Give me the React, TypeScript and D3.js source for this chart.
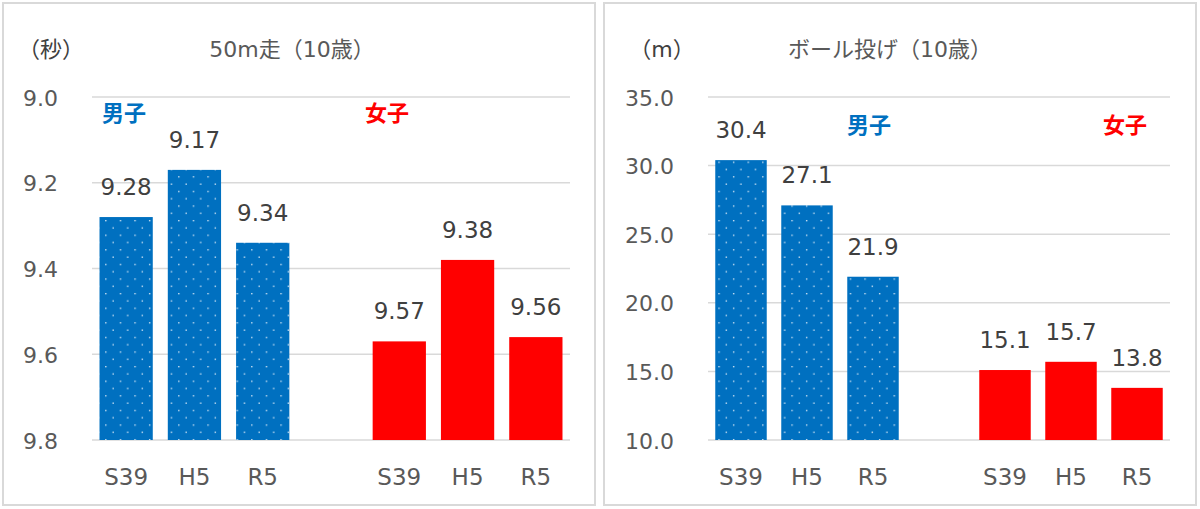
import React from "react";
import * as d3 from "d3";

const categories = ["S39", "H5", "R5"];
const runBoys = [9.28, 9.17, 9.34];
const runGirls = [9.57, 9.38, 9.56];
const runTicks = [9.0, 9.2, 9.4, 9.6, 9.8];
const throwBoys = [30.4, 27.1, 21.9];
const throwGirls = [15.1, 15.7, 13.8];
const throwTicks = [35.0, 30.0, 25.0, 20.0, 15.0, 10.0];

const BLUE = "#0070C0";
const RED = "#FF0000";
const TEXT = "#595959";
const LABEL = "#404040";
const GRID = "#D9D9D9";
const NUM_FONT = "'DejaVu Sans', 'Noto Sans CJK JP', sans-serif";
const JP_FONT = "'Noto Sans CJK JP', 'Noto Sans', sans-serif";
const TITLE_FONT = "'DejaVu Sans', 'Noto Sans CJK JP', sans-serif";

type PanelProps = {
  x0: number;
  x1: number;
  plotL: number;
  plotR: number;
  title: string;
  titleX: number;
  unit: string;
  unitX: number;
  tickX: number;
  boys: number[];
  girls: number[];
  ticks: number[];
  domain: [number, number];
  tickDigits: number;
  valueDigits: number;
  boysLabel: [number, number];
  girlsLabel: [number, number];
  patternId: string;
};

function Panel(p: PanelProps) {
  const top = 97;
  const bottom = 440;
  const slots = ["b0", "b1", "b2", "gap", "g0", "g1", "g2"];
  const x = d3
    .scaleBand<string>()
    .domain(slots)
    .range([p.plotL, p.plotR])
    .paddingInner(0.22)
    .paddingOuter(0.11);
  const y = d3.scaleLinear().domain(p.domain).range([bottom, top]);
  const bars = [
    ...p.boys.map((v, i) => ({ key: "b" + i, v, cat: categories[i], fill: `url(#${p.patternId})` })),
    ...p.girls.map((v, i) => ({ key: "g" + i, v, cat: categories[i], fill: RED })),
  ];
  return (
    <g>
      <rect x={p.x0} y={3} width={p.x1 - p.x0} height={502} fill="#fff" stroke={GRID} strokeWidth={2} />
      <text x={p.titleX} y={57} textAnchor="middle" fontSize={22} fill={TEXT} fontFamily={TITLE_FONT}>
        {p.title}
      </text>
      <text x={p.unitX} y={57} textAnchor="middle" fontSize={22} fill={LABEL} fontFamily={TITLE_FONT}>
        {p.unit}
      </text>
      {p.ticks.map((t) => (
        <g key={t}>
          <line x1={p.plotL} x2={p.plotR} y1={y(t)} y2={y(t)} stroke={GRID} strokeWidth={1.5} />
          <text x={p.tickX} y={y(t) + 8.5} textAnchor="end" fontSize={22} fill={TEXT} fontFamily={NUM_FONT}>
            {t.toFixed(p.tickDigits)}
          </text>
        </g>
      ))}
      {bars.map((b) => {
        const yv = y(b.v);
        const xb = x(b.key)!;
        const cx = xb + x.bandwidth() / 2;
        return (
          <g key={b.key}>
            <rect x={xb} y={yv} width={x.bandwidth()} height={bottom - yv} fill={b.fill} />
            <text x={cx} y={yv - 22} textAnchor="middle" fontSize={23} fill={LABEL} fontFamily={NUM_FONT}>
              {b.v.toFixed(p.valueDigits)}
            </text>
            <text x={cx} y={485} textAnchor="middle" fontSize={23} fill={TEXT} fontFamily={NUM_FONT}>
              {b.cat}
            </text>
          </g>
        );
      })}
      <text x={p.boysLabel[0]} y={p.boysLabel[1]} textAnchor="middle" fontSize={22} fontWeight="bold" fill={BLUE} fontFamily={JP_FONT}>
        男子
      </text>
      <text x={p.girlsLabel[0]} y={p.girlsLabel[1]} textAnchor="middle" fontSize={22} fontWeight="bold" fill={RED} fontFamily={JP_FONT}>
        女子
      </text>
    </g>
  );
}

export default function App() {
  return (
    <svg width={1200} height={509} style={{ position: "absolute", left: 0, top: 0 }}>
      <defs>
        {["dotsA", "dotsB"].map((id) => (
          <pattern key={id} id={id} width={14.6} height={14.6} patternUnits="userSpaceOnUse">
            <rect width={14.6} height={14.6} fill={BLUE} />
            <rect x={3} y={1} width={1.3} height={1.3} fill="#e6f0fa" />
            <rect x={10.3} y={8.3} width={1.3} height={1.3} fill="#e6f0fa" />
          </pattern>
        ))}
      </defs>
      <Panel
        x0={3}
        x1={595}
        plotL={92}
        plotR={570}
        title="50m走（10歳）"
        titleX={292}
        unit="（秒）"
        unitX={51}
        tickX={58}
        boys={runBoys}
        girls={runGirls}
        ticks={runTicks}
        domain={[9.8, 9.0]}
        tickDigits={1}
        valueDigits={2}
        boysLabel={[124, 121]}
        girlsLabel={[387, 121]}
        patternId="dotsA"
      />
      <Panel
        x0={604}
        x1={1196}
        plotL={708}
        plotR={1170}
        title="ボール投げ（10歳）"
        titleX={890}
        unit="（m）"
        unitX={662}
        tickX={674}
        boys={throwBoys}
        girls={throwGirls}
        ticks={throwTicks}
        domain={[10, 35]}
        tickDigits={1}
        valueDigits={1}
        boysLabel={[869, 133]}
        girlsLabel={[1125, 133]}
        patternId="dotsB"
      />
    </svg>
  );
}
